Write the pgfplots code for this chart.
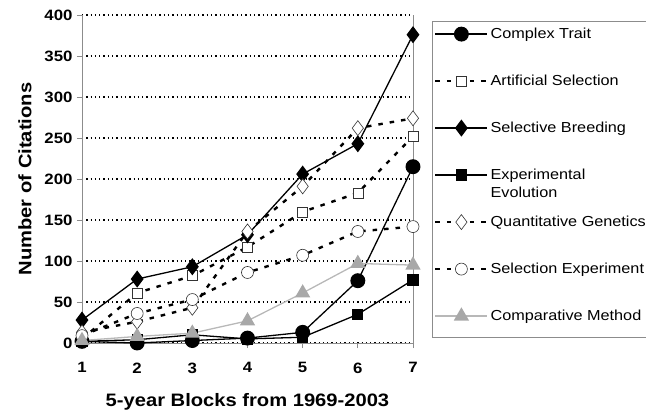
\documentclass[border=0pt]{standalone}
\usepackage{fontspec}
\setmainfont{Liberation Sans}[FakeStretch=1.12]
\usepackage{pgfplots}
\pgfplotsset{compat=1.18}
\definecolor{trifill}{HTML}{A8A8A8}
\definecolor{triline}{HTML}{B8B8B8}
\definecolor{axgray}{HTML}{8C8C8C}
\begin{document}
\begin{tikzpicture}
\begin{axis}[
  at={(0pt,0pt)}, anchor=south west,
  scale only axis, width=331pt, height=328pt,
  xmin=1, xmax=7, ymin=0, ymax=400,
  xtick={1,2,3,4,5,6,7}, ytick={0,50,...,400},
  axis x line*=bottom, axis y line*=left,
  axis line style={axgray, line width=0.9pt},
  tick style={axgray, line width=0.9pt},
  tick align=outside, major tick length=5pt,
  ymajorgrids,
  grid style={black, line width=1.1pt, dash pattern=on 1.3pt off 3pt},
  /pgf/number format/assume math mode=true,
  ticklabel style={font=\fontsize{15}{18}\selectfont\bfseries},
  xticklabel style={yshift=-11pt},
  yticklabel style={xshift=-1pt},
  xlabel={5-year Blocks from 1969-2003},
  ylabel={Number of Citations},
  label style={font=\fontsize{18}{21}\selectfont\bfseries},
  xlabel style={yshift=-13pt},
  ylabel style={yshift=6pt},
  clip=false,
  legend style={at={(1.0574,0.982)}, anchor=north west, draw=none, fill=none,
    font=\fontsize{14.5}{18}\selectfont, inner xsep=2pt, inner ysep=4pt,
    row sep=29pt, column sep=0pt,
    nodes={inner sep=2pt, text height=11pt, text depth=3pt}},
  legend cell align=left,
  legend image code/.code={\draw[mark repeat=2,mark phase=2] plot coordinates {(0pt,0pt)(26pt,0pt)(52pt,0pt)};},
]
\draw[axgray, line width=0.9pt] (rel axis cs:1,0) -- (rel axis cs:1,1);
% Complex Trait
\addplot[black, line width=1.3pt, mark=*, mark size=6.8pt, mark options={solid, fill=black}]
  coordinates {(1,2)(2,0)(3,3)(4,6)(5,13)(6,76)(7,215)};
\addlegendentry{Complex Trait}
% Artificial Selection
\addplot[black, line width=2.4pt, dash pattern=on 4.5pt off 7pt, mark=square*, mark size=5pt,
  mark options={solid, fill=white, draw=black!80, line width=0.6pt}]
  coordinates {(1,5)(2,61)(3,82)(4,117)(5,160)(6,183)(7,252)};
\addlegendentry{Artificial Selection}
% Selective Breeding
\addplot[black, line width=1.3pt, mark=diamond*, mark size=7.5pt, mark options={solid, fill=black}]
  coordinates {(1,28)(2,78)(3,93)(4,132)(5,206)(6,243)(7,376)};
\addlegendentry{Selective Breeding}
% Experimental Evolution
\addplot[black, line width=1.3pt, mark=square*, mark size=5pt, mark options={solid, fill=black}]
  coordinates {(1,2)(2,4)(3,10)(4,5)(5,7)(6,35)(7,77)};
\addlegendentry{\raisebox{0pt}[\height][0pt]{\begin{tabular}[t]{@{}l@{}}Experimental\\Evolution\end{tabular}}}
% Quantitative Genetics
\addplot[black, line width=2.4pt, dash pattern=on 4.5pt off 7pt, mark=diamond*, mark size=7.5pt,
  mark options={solid, fill=white, draw=black!80, line width=0.6pt}]
  coordinates {(1,13)(2,26)(3,43)(4,136)(5,191)(6,262)(7,274)};
\addlegendentry{Quantitative Genetics}
% Selection Experiment
\addplot[black, line width=2.4pt, dash pattern=on 4.5pt off 7pt, mark=*, mark size=6pt,
  mark options={solid, fill=white, draw=black!80, line width=0.6pt}]
  coordinates {(1,9)(2,36)(3,53)(4,86)(5,107)(6,136)(7,142)};
\addlegendentry{Selection Experiment}
% Comparative Method
\addplot[triline, line width=1.3pt, mark=triangle*, mark size=7.5pt,
  mark options={solid, fill=trifill, draw=trifill}]
  coordinates {(1,3)(2,8)(3,12)(4,27)(5,61)(6,97)(7,95)};
\addlegendentry{Comparative Method}
\end{axis}
\draw[axgray, line width=0.9pt] (350pt,322pt) rectangle (580pt,6pt);
\pgfresetboundingbox
\path[use as bounding box] (-82pt,-70pt) rectangle (564pt,343pt);
\end{tikzpicture}
\end{document}
